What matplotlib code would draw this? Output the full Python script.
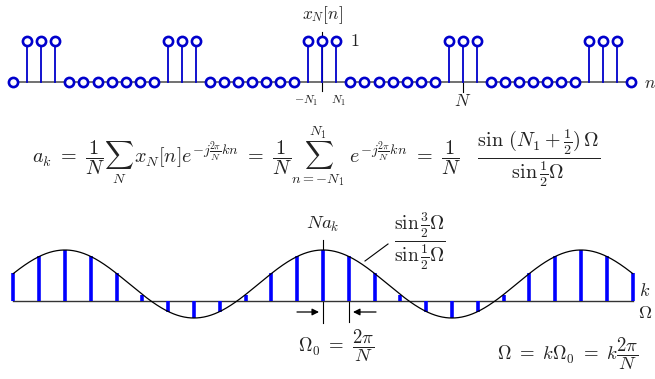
import numpy as np
import matplotlib
matplotlib.use("Agg")
import matplotlib.pyplot as plt

plt.rcParams['mathtext.fontset'] = 'cm'
plt.rcParams['font.family'] = 'DejaVu Serif'

# ---- data ----
n_vals = list(range(-22, 23))
x_vals = [0, 1, 1, 1, 0, 0, 0, 0, 0, 0, 0,
          1, 1, 1, 0, 0, 0, 0, 0, 0, 0,
          1, 1, 1, 0, 0, 0, 0, 0, 0, 0,
          1, 1, 1, 0, 0, 0, 0, 0, 0, 0,
          1, 1, 1, 0]
k_vals = list(range(-12, 13))
Nak_vals = [1.62, 2.62, 3.0, 2.62, 1.62, 0.38, -0.62, -1.0, -0.62, 0.38, 1.62, 2.62,
            3.0, 2.62, 1.62, 0.38, -0.62, -1.0, -0.62, 0.38, 1.62, 2.62, 3.0, 2.62, 1.62]
N_period = 10

W, H = 655, 379
fig = plt.figure(figsize=(W / 100, H / 100), dpi=100)

# text / annotation axes in pixel coordinates
tax = fig.add_axes([0, 0, 1, 1])
tax.set_xlim(0, W)
tax.set_ylim(H, 0)
tax.axis('off')

# top stem axes: pixel x = 322.3 + 14.05 n ; pixel y = 82 - 41.3 v
sx, x0, sy, y0 = 14.05, 322.3, 41.3, 82.0
ax1 = fig.add_axes([0, 0, 1, 1], zorder=2)
ax1.patch.set_alpha(0)
ax1.set_xlim((0 - x0) / sx, (W - x0) / sx)
ax1.set_ylim((y0 - H) / sy, y0 / sy)
ax1.axis('off')

stem_col = '#0000cc'
ax1.plot([n_vals[0], n_vals[-1]], [0, 0], color='#666666', lw=1.3, zorder=1)
for n, v in zip(n_vals, x_vals):
    if v:
        ax1.plot([n, n], [0, v], color=stem_col, lw=1.3, zorder=2)
ax1.plot(n_vals, x_vals, ls='none', marker='o', ms=6.6, mfc='white',
         mec=stem_col, mew=1.9, zorder=3)

# bottom axes: pixel x = 323 + 25.8 k ; pixel y = 301 - 17 v
bx, bx0, by, by0 = 25.8, 323.0, 17.0, 301.0
ax2 = fig.add_axes([0, 0, 1, 1], zorder=2)
ax2.patch.set_alpha(0)
ax2.set_xlim((0 - bx0) / bx, (W - bx0) / bx)
ax2.set_ylim((by0 - H) / by, by0 / by)
ax2.axis('off')

ax2.plot([k_vals[0], k_vals[-1]], [0, 0], color='#333333', lw=1.0, zorder=1)
kk = np.linspace(k_vals[0], k_vals[-1], 1201)
Om = 2 * np.pi * kk / N_period
den = np.sin(0.5 * Om)
safe = np.abs(den) > 1e-9
curve = np.where(safe, np.sin(1.5 * Om) / np.where(safe, den, 1.0), 3.0)
ax2.plot(kk, curve, color='black', lw=0.9, zorder=3)
for k, v in zip(k_vals, Nak_vals):
    ax2.plot([k, k], [0, v], color='#0000ff', lw=2.6, solid_capstyle='butt', zorder=2)

# ---- ticks and annotations (pixel coords) ----
tax.plot([322.3, 322.3], [32, 91], color='black', lw=0.8)
tax.plot([462.8, 462.8], [82, 92], color='black', lw=0.8)
tax.plot([323, 323], [240, 323], color='black', lw=0.8)
tax.plot([348.8, 348.8], [301, 322], color='black', lw=0.8)
tax.plot([365, 388], [261, 244], color='black', lw=0.8)
tax.annotate('', xy=(319, 312), xytext=(297, 312),
             arrowprops=dict(arrowstyle='-|>', color='black', lw=0.9,
                             mutation_scale=10, shrinkA=0, shrinkB=0))
tax.annotate('', xy=(353, 312), xytext=(376, 312),
             arrowprops=dict(arrowstyle='-|>', color='black', lw=0.9,
                             mutation_scale=10, shrinkA=0, shrinkB=0))

tc = '#222222'
tax.text(322, 15, r'$x_N[n]$', ha='center', va='center', fontsize=12.5, color=tc)
tax.text(350, 41, r'$1$', ha='left', va='center', fontsize=13, color=tc)
tax.text(306, 101, r'$-N_1$', ha='center', va='center', fontsize=8.5, color=tc)
tax.text(338, 101, r'$N_1$', ha='center', va='center', fontsize=8.5, color=tc)
tax.text(462.8, 102, r'$N$', ha='center', va='center', fontsize=12.5, color=tc)
tax.text(644, 83, r'$n$', ha='left', va='center', fontsize=12.5, color=tc)

formula = (r'$a_k\ =\ \dfrac{1}{N}\sum_{N}\, x_N[n]e^{-j\frac{2\pi}{N}kn}'
           r'\ =\ \dfrac{1}{N}\sum_{n=-N_1}^{N_1}\ e^{-j\frac{2\pi}{N}kn}'
           r'\ =\ \dfrac{1}{N}\ \ \ \dfrac{\sin\,(N_1+\frac{1}{2})\,\Omega}{\sin\frac{1}{2}\Omega}$')
tax.text(316, 157, formula, ha='center', va='center', fontsize=14.5, color=tc)

tax.text(323, 224, r'$Na_k$', ha='center', va='center', fontsize=13.5, color=tc)
tax.text(394, 241, r'$\dfrac{\sin\frac{3}{2}\Omega}{\sin\frac{1}{2}\Omega}$',
         ha='left', va='center', fontsize=14, color=tc)
tax.text(639, 291, r'$k$', ha='left', va='center', fontsize=13, color=tc)
tax.text(638, 313, r'$\Omega$', ha='left', va='center', fontsize=13, color=tc)
tax.text(298, 346, r'$\Omega_0\ =\ \dfrac{2\pi}{N}$', ha='left', va='center',
         fontsize=13.5, color=tc)
tax.text(497, 354, r'$\Omega\ =\ k\Omega_0\ =\ k\dfrac{2\pi}{N}$', ha='left', va='center',
         fontsize=13.5, color=tc)

fig.savefig('out.png', dpi=100)
